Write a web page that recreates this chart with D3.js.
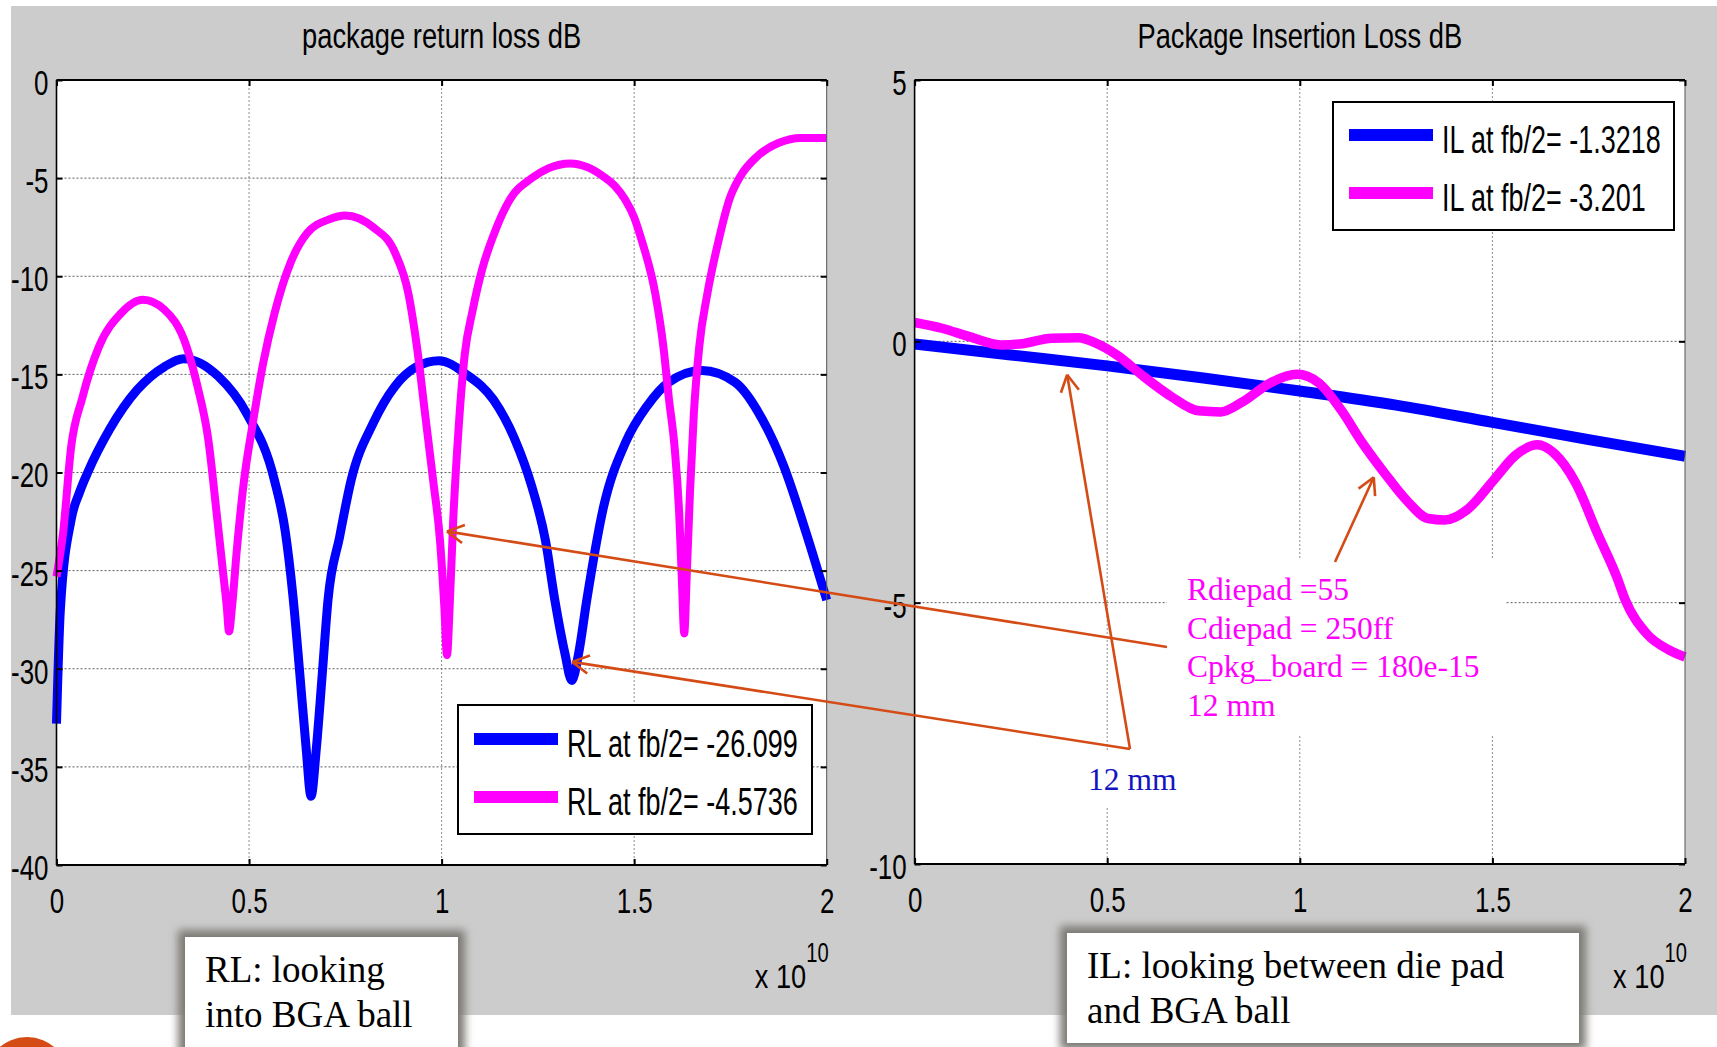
<!DOCTYPE html>
<html>
<head>
<meta charset="utf-8">
<script src="https://cdn.jsdelivr.net/npm/d3@7"></script>
<style>
  body { margin: 0; background: #fff; }
  svg { display: block; }
</style>
</head>
<body>
<svg id="fig" width="1717" height="1047"></svg>
<script>
// ---- data (frequency in units of 1e10 Hz, values in dB) ----
const xTicks = [0, 0.5, 1, 1.5, 2];
const rlTicks = [0, -5, -10, -15, -20, -25, -30, -35, -40];
const ilTicks = [5, 0, -5, -10];

const rlBlueF = [0, 0.01, 0.038, 0.06, 0.081, 0.138, 0.209, 0.281, 0.33, 0.42, 0.494, 0.566, 0.594, 0.614, 0.632, 0.648, 0.661, 0.675, 0.69, 0.705, 0.735, 0.765, 0.822, 0.879, 0.936, 0.993, 1.064, 1.135, 1.19, 1.234, 1.27, 1.294, 1.32, 1.338, 1.356, 1.377, 1.42, 1.477, 1.534, 1.59, 1.676, 1.762, 1.833, 1.889, 1.947, 2.0];
const rlBlueDb = [-32.8, -27.0, -22.4, -21.0, -20.0, -17.8, -15.8, -14.6, -14.2, -15.1, -17.0, -20.4, -23.0, -26.3, -30.3, -34.0, -36.5, -34.0, -30.3, -26.5, -23.3, -20.4, -17.5, -15.6, -14.6, -14.3, -15.0, -16.3, -18.3, -20.7, -23.5, -26.5, -29.2, -30.6, -29.2, -26.5, -21.8, -18.5, -16.6, -15.4, -14.8, -15.4, -17.3, -19.7, -23.1, -26.5];

const rlMagF = [0, 0.017, 0.038, 0.067, 0.11, 0.167, 0.224, 0.28, 0.338, 0.366, 0.394, 0.416, 0.432, 0.442, 0.448, 0.456, 0.468, 0.487, 0.508, 0.537, 0.566, 0.608, 0.651, 0.708, 0.75, 0.822, 0.879, 0.914, 0.936, 0.957, 0.978, 0.996, 1.007, 1.014, 1.021, 1.03, 1.045, 1.06, 1.08, 1.106, 1.135, 1.177, 1.234, 1.277, 1.334, 1.38, 1.419, 1.45, 1.477, 1.5, 1.52, 1.555, 1.576, 1.59, 1.605, 1.617, 1.624, 1.63, 1.637, 1.645, 1.655, 1.669, 1.69, 1.719, 1.747, 1.776, 1.819, 1.876, 1.933, 2.0];
const rlMagDb = [-25.3, -23.1, -18.7, -16.2, -13.6, -11.9, -11.2, -11.7, -13.6, -15.6, -18.3, -22.1, -25.0, -26.8, -28.1, -26.8, -24.0, -20.4, -17.7, -14.4, -11.9, -9.3, -7.8, -7.1, -6.9, -7.5, -8.8, -10.9, -13.6, -17.0, -20.4, -23.5, -26.8, -29.3, -26.8, -22.5, -17.5, -14.0, -11.8, -9.6, -7.9, -6.1, -5.0, -4.5, -4.25, -4.45, -4.9, -5.4, -6.1, -7.0, -8.2, -10.9, -13.6, -16.2, -18.7, -22.1, -25.5, -28.2, -25.0, -21.0, -17.0, -13.6, -10.9, -8.2, -6.1, -4.9, -3.9, -3.2, -2.95, -2.95];

const ilBlueF = [0, 0.25, 0.5, 0.75, 1.0, 1.25, 1.5, 1.75, 2.0];
const ilBlueDb = [-0.05, -0.26, -0.47, -0.70, -0.95, -1.22, -1.55, -1.88, -2.2];

const ilMagF = [0, 0.071, 0.142, 0.227, 0.284, 0.355, 0.426, 0.469, 0.525, 0.596, 0.667, 0.738, 0.795, 0.851, 0.922, 0.993, 1.05, 1.107, 1.163, 1.22, 1.277, 1.333, 1.376, 1.433, 1.504, 1.56, 1.617, 1.66, 1.717, 1.773, 1.823, 1.845, 1.9, 1.96, 2.0];
const ilMagDb = [0.36, 0.25, 0.09, -0.07, -0.04, 0.06, 0.07, -0.03, -0.26, -0.68, -1.06, -1.33, -1.35, -1.16, -0.80, -0.63, -0.80, -1.31, -1.95, -2.52, -3.04, -3.39, -3.42, -3.23, -2.65, -2.18, -1.98, -2.14, -2.72, -3.68, -4.51, -4.95, -5.59, -5.91, -6.04];

const rlLegend = ["RL at fb/2= -26.099", "RL at fb/2= -4.5736"];
const ilLegend = ["IL at fb/2= -1.3218", "IL at fb/2= -3.201"];
const paramLines = ["Rdiepad =55", "Cdiepad = 250ff", "Cpkg_board = 180e-15", "12 mm"];

const BLUE = "#0000ff", MAGENTA = "#ff00ff", ORANGE = "#d44b16";
const SANS = "'Liberation Sans', Arial, sans-serif";
const SERIF = "'Liberation Serif', 'Times New Roman', serif";

const svg = d3.select("#fig");

// slide background
svg.append("rect").attr("x", 11).attr("y", 6).attr("width", 1706).attr("height", 1009).attr("fill", "#cccccc");

// scales
const xL = d3.scaleLinear().domain([0, 2]).range([56.5, 826.7]);
const yL = d3.scaleLinear().domain([-40, 0]).range([865, 80]);
const xR = d3.scaleLinear().domain([0, 2]).range([914.6, 1685]);
const yR = d3.scaleLinear().domain([-10, 5]).range([864, 80]);

// squeezed text (the figure was stretched narrow)
function sqText(x, y, str, size, k, anchor, family, fill) {
  return svg.append("text")
    .attr("transform", `translate(${x},${y}) scale(${k},1)`)
    .attr("text-anchor", anchor || "start")
    .attr("font-family", family || SANS)
    .attr("font-size", size)
    .attr("fill", fill || "#000")
    .text(str);
}

function panelBack(x, y, yTicks) {
  const [x0, x1] = x.range(), [y0, y1] = y.range();
  const g = svg.append("g");
  g.append("rect").attr("x", x0).attr("y", y1).attr("width", x1 - x0).attr("height", y0 - y1).attr("fill", "#fff");
  g.selectAll(".vg").data(xTicks.filter(d => d > 0 && d < 2)).join("line")
    .attr("x1", d => x(d)).attr("x2", d => x(d)).attr("y1", y1).attr("y2", y0)
    .attr("stroke", "#8c8c8c").attr("stroke-dasharray", "2,2");
  const [d0, d1] = y.domain();
  g.selectAll(".hg").data(yTicks.filter(d => d > d0 && d < d1)).join("line")
    .attr("x1", x0).attr("x2", x1).attr("y1", d => y(d)).attr("y2", d => y(d))
    .attr("stroke", "#5e5e5e").attr("stroke-dasharray", "2,2");
}

function panelFront(x, y, yTicks, title) {
  const [x0, x1] = x.range(), [y0, y1] = y.range();
  const g = svg.append("g");
  // frame
  g.append("line").attr("x1", x1).attr("x2", x1).attr("y1", y1).attr("y2", y0).attr("stroke", "#555").attr("stroke-width", 1);
  g.append("line").attr("x1", x0).attr("x2", x0).attr("y1", y1).attr("y2", y0).attr("stroke", "#000").attr("stroke-width", 1.6);
  g.append("line").attr("x1", x0).attr("x2", x1).attr("y1", y1).attr("y2", y1).attr("stroke", "#000").attr("stroke-width", 2.2);
  g.append("line").attr("x1", x0).attr("x2", x1).attr("y1", y0).attr("y2", y0).attr("stroke", "#000").attr("stroke-width", 2.2);

  const fmt = d => String(d);
  const bottom = g.append("g").attr("transform", `translate(0,${y0})`)
    .call(d3.axisBottom(x).tickValues(xTicks).tickFormat(fmt).tickSizeInner(-6).tickSizeOuter(0).tickPadding(22));
  const left = g.append("g").attr("transform", `translate(${x0},0)`)
    .call(d3.axisLeft(y).tickValues(yTicks).tickFormat(fmt).tickSizeInner(-6).tickSizeOuter(0).tickPadding(8));
  const top = g.append("g").attr("transform", `translate(0,${y1})`)
    .call(d3.axisTop(x).tickValues(xTicks).tickFormat("").tickSizeInner(-6).tickSizeOuter(0));
  const right = g.append("g").attr("transform", `translate(${x1},0)`)
    .call(d3.axisRight(y).tickValues(yTicks).tickFormat("").tickSizeInner(-6).tickSizeOuter(0));
  [bottom, left, top, right].forEach(a => {
    a.select(".domain").remove();
    a.selectAll(".tick line").attr("stroke", "#000").attr("stroke-width", 2);
    a.selectAll(".tick text").attr("font-family", SANS).attr("font-size", 36).attr("fill", "#000");
  });
  bottom.selectAll(".tick text").attr("transform", "scale(0.72,1)");
  left.selectAll(".tick text").attr("x", -8 / 0.72).attr("dy", "0.4em").attr("transform", "scale(0.72,1)");

  // title and exponent label
  sqText((x0 + x1) / 2, 48, title, 35, 0.78, "middle");
  sqText(x1 - 20.5, 988, "x 10", 34, 0.8, "end");
  sqText(x1 - 20.5, 962, "10", 28, 0.72, "start");
}

function curve(x, y, fs, vals, color, w) {
  const line = d3.line().x(d => x(d[0])).y(d => y(d[1])).curve(d3.curveMonotoneX);
  svg.append("path").datum(d3.zip(fs, vals)).attr("d", line)
    .attr("fill", "none").attr("stroke", color).attr("stroke-width", w)
    .attr("stroke-linejoin", "round").attr("stroke-linecap", "butt");
}

function legend(bx, by, bw, bh, labels, colors, first, step) {
  svg.append("rect").attr("x", bx).attr("y", by).attr("width", bw).attr("height", bh)
    .attr("fill", "#fff").attr("stroke", "#000").attr("stroke-width", 2);
  labels.forEach((t, i) => {
    const cy = by + first + i * step;
    svg.append("line").attr("x1", bx + 16).attr("x2", bx + 100).attr("y1", cy).attr("y2", cy)
      .attr("stroke", colors[i]).attr("stroke-width", 12);
    sqText(bx + 109, cy + 17.5, t, 38, 0.71, "start");
  });
}

function arrow(from, to) {
  const g = svg.append("g").attr("stroke", ORANGE).attr("stroke-width", 2.6).attr("fill", "none");
  g.append("line").attr("x1", from[0]).attr("y1", from[1]).attr("x2", to[0]).attr("y2", to[1]);
  const a = Math.atan2(from[1] - to[1], from[0] - to[0]);
  [-0.5, 0.5].forEach(da => {
    g.append("line").attr("x1", to[0]).attr("y1", to[1])
      .attr("x2", to[0] + 19 * Math.cos(a + da)).attr("y2", to[1] + 19 * Math.sin(a + da));
  });
}

function noteBox(x, y, w, h, lines, size, lineGap) {
  svg.append("rect").attr("x", x - 7).attr("y", y - 7).attr("width", w + 14).attr("height", h + 14)
    .attr("fill", "#7d7a74").attr("filter", "url(#blur)");
  svg.append("rect").attr("x", x).attr("y", y).attr("width", w).attr("height", h).attr("fill", "#fff");
  lines.forEach((t, i) => {
    svg.append("text").attr("x", x + 20).attr("y", y + 45 + i * lineGap)
      .attr("font-family", SERIF).attr("font-size", size).attr("fill", "#000").text(t);
  });
}

svg.append("defs").append("filter").attr("id", "blur").attr("x", "-20%").attr("y", "-20%").attr("width", "140%").attr("height", "140%")
  .append("feGaussianBlur").attr("stdDeviation", 4);

// ---- left: return loss ----
panelBack(xL, yL, rlTicks);
curve(xL, yL, rlBlueF, rlBlueDb, BLUE, 9);
curve(xL, yL, rlMagF, rlMagDb, MAGENTA, 8);
panelFront(xL, yL, rlTicks, "package return loss dB");
legend(458, 705, 354, 129, rlLegend, [BLUE, MAGENTA], 34, 58);

// ---- right: insertion loss ----
panelBack(xR, yR, ilTicks);
svg.append("rect").attr("x", 1167).attr("y", 560).attr("width", 339).attr("height", 175).attr("fill", "#fff");
svg.append("rect").attr("x", 1075).attr("y", 750).attr("width", 110).attr("height", 58).attr("fill", "#fff");
curve(xR, yR, ilBlueF, ilBlueDb, BLUE, 11);
curve(xR, yR, ilMagF, ilMagDb, MAGENTA, 9.5);
panelFront(xR, yR, ilTicks, "Package Insertion Loss dB");
legend(1333, 102, 341, 128, ilLegend, [BLUE, MAGENTA], 33, 58);

// annotation text
paramLines.forEach((t, i) => {
  svg.append("text").attr("x", 1187).attr("y", 600 + i * 38.5)
    .attr("font-family", SERIF).attr("font-size", 31.5).attr("fill", MAGENTA).text(t);
});
svg.append("text").attr("x", 1088).attr("y", 790)
  .attr("font-family", SERIF).attr("font-size", 31.5).attr("fill", "#1414c0").text("12 mm");

// arrows: tails at the notes, heads on the curves
arrow([1167, 647], [xL(1.014), yL(-23.0)]);
arrow([1130, 749], [xL(1.339), yL(-29.65)]);
arrow([1130, 749], [xR(0.396), yR(-0.64)]);
arrow([1335, 562], [xR(1.192), yR(-2.6)]);

// caption boxes
noteBox(185, 937, 273, 140, ["RL: looking", "into BGA ball"], 37, 45);
noteBox(1067, 933, 512, 110, ["IL: looking between die pad", "and BGA ball"], 37, 45);

// slide decoration
svg.append("circle").attr("cx", 27).attr("cy", 1079).attr("r", 42).attr("fill", ORANGE);
</script>
</body>
</html>
